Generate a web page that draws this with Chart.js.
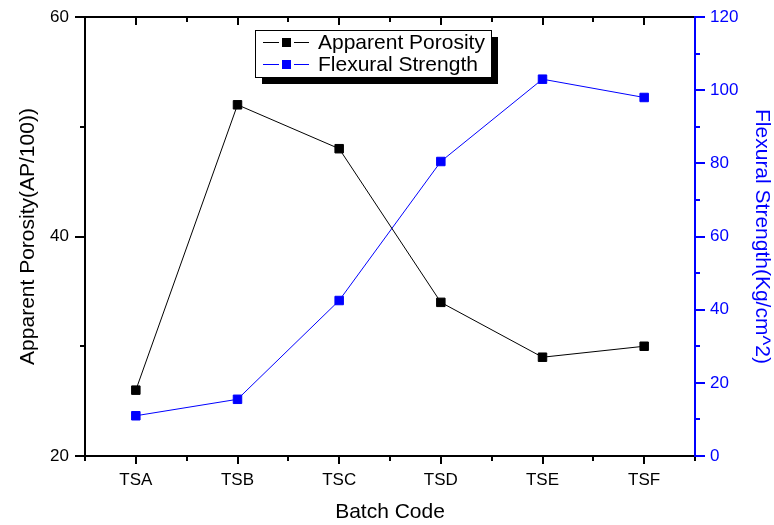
<!DOCTYPE html>
<html>
<head>
<meta charset="utf-8">
<script src="https://cdn.jsdelivr.net/npm/chart.js@4/dist/chart.umd.min.js"></script>
<style>
html,body{margin:0;padding:0;background:#fff;}
#wrap{width:774px;height:525px;}
</style>
</head>
<body>
<div id="wrap"><canvas id="c" width="774" height="525"></canvas></div>
<script>
const categories = ['TSA', 'TSB', 'TSC', 'TSD', 'TSE', 'TSF'];
const apparentPorosity = [26, 52, 48, 34, 29, 30];
const flexuralStrength = [11, 15.5, 42.5, 80.5, 103, 98];
const leftTicks = [20, 40, 60];
const leftMinorTicks = [30, 50];
const rightTicks = [0, 20, 40, 60, 80, 100, 120];
const rightMinorTicks = [10, 30, 50, 70, 90, 110];

const FONT = "'Liberation Sans', Arial, sans-serif";
const BLUE = '#0000FF';

const framePlugin = {
  id: 'frame',
  afterDatasetsDraw(chart) {
    const ctx = chart.ctx;
    const a = chart.chartArea;
    const x = chart.scales.x, yl = chart.scales.y, yr = chart.scales.y1;
    ctx.save();
    ctx.lineWidth = 2;
    ctx.lineCap = 'butt';
    ctx.strokeStyle = '#000';
    ctx.beginPath();
    ctx.moveTo(a.left, a.top - 1); ctx.lineTo(a.left, a.bottom + 1);
    ctx.moveTo(a.left - 1, a.bottom); ctx.lineTo(a.right, a.bottom);
    ctx.moveTo(a.left - 1, a.top); ctx.lineTo(a.right, a.top);
    for (let i = 0; i < categories.length; i++) {
      const px = Math.round(x.getPixelForValue(i));
      ctx.moveTo(px, a.bottom); ctx.lineTo(px, a.bottom + 8);
      ctx.moveTo(px, a.top); ctx.lineTo(px, a.top + 8);
    }
    for (let i = 0; i <= categories.length; i++) {
      const px = Math.round(x.getPixelForValue(i - 0.5));
      ctx.moveTo(px, a.bottom); ctx.lineTo(px, a.bottom + 5);
      ctx.moveTo(px, a.top); ctx.lineTo(px, a.top + 5);
    }
    leftTicks.forEach(v => {
      const py = Math.round(yl.getPixelForValue(v));
      ctx.moveTo(a.left, py); ctx.lineTo(a.left - 10, py);
    });
    leftMinorTicks.forEach(v => {
      const py = Math.round(yl.getPixelForValue(v));
      ctx.moveTo(a.left, py); ctx.lineTo(a.left - 5, py);
    });
    ctx.stroke();
    ctx.strokeStyle = BLUE;
    ctx.beginPath();
    ctx.moveTo(a.right, a.top - 1); ctx.lineTo(a.right, a.bottom + 1);
    rightTicks.forEach(v => {
      const py = Math.round(yr.getPixelForValue(v));
      ctx.moveTo(a.right, py); ctx.lineTo(a.right + 10, py);
    });
    rightMinorTicks.forEach(v => {
      const py = Math.round(yr.getPixelForValue(v));
      ctx.moveTo(a.right, py); ctx.lineTo(a.right + 5, py);
    });
    ctx.stroke();

    const lx = 255, ly = 30, lw = 236, lh = 47;
    ctx.fillStyle = '#000';
    ctx.fillRect(lx + 7, ly + 7, lw, lh);
    ctx.fillStyle = '#fff';
    ctx.fillRect(lx, ly, lw, lh);
    ctx.lineWidth = 1;
    ctx.strokeStyle = '#000';
    ctx.strokeRect(lx + 0.5, ly + 0.5, lw, lh);
    chart.data.datasets.forEach((ds, i) => {
      const cy = ly + 12 + i * 22;
      ctx.strokeStyle = ds.borderColor;
      ctx.lineWidth = 1;
      ctx.beginPath();
      ctx.moveTo(263, cy + 0.5); ctx.lineTo(279, cy + 0.5);
      ctx.moveTo(294, cy + 0.5); ctx.lineTo(309, cy + 0.5);
      ctx.stroke();
      ctx.fillStyle = ds.borderColor;
      ctx.fillRect(282, cy - 4, 9, 9);
      ctx.fillStyle = '#000';
      ctx.font = '21px ' + FONT;
      ctx.textBaseline = 'middle';
      ctx.textAlign = 'left';
      ctx.fillText(ds.label, 318, cy + 1);
    });
    ctx.restore();
  }
};

function noPad(s) { s.paddingTop = 0; s.paddingBottom = 0; s.paddingLeft = 0; s.paddingRight = 0; }

new Chart(document.getElementById('c'), {
  type: 'line',
  data: {
    labels: categories,
    datasets: [
      {
        label: 'Apparent Porosity',
        data: apparentPorosity,
        yAxisID: 'y',
        borderColor: '#000000',
        backgroundColor: '#000000',
        borderWidth: 1,
        pointStyle: 'rect',
        pointRadius: 6,
        pointBorderWidth: 1,
        pointBackgroundColor: '#000000',
        pointBorderColor: '#000000',
        tension: 0
      },
      {
        label: 'Flexural Strength',
        data: flexuralStrength,
        yAxisID: 'y1',
        borderColor: BLUE,
        backgroundColor: BLUE,
        borderWidth: 1,
        pointStyle: 'rect',
        pointRadius: 6,
        pointBorderWidth: 1,
        pointBackgroundColor: BLUE,
        pointBorderColor: BLUE,
        tension: 0
      }
    ]
  },
  options: {
    responsive: false,
    animation: false,
    layout: { padding: { top: 17, left: 0, right: 0, bottom: 0 } },
    plugins: { legend: { display: false }, tooltip: { enabled: false } },
    scales: {
      x: {
        type: 'category',
        offset: true,
        grid: { display: false, drawTicks: false },
        border: { display: false },
        ticks: { color: '#000', font: { family: FONT, size: 17 }, padding: 14, maxRotation: 0 },
        title: { display: true, text: 'Batch Code', color: '#000', font: { family: FONT, size: 21 }, padding: { top: 0, bottom: 0 } },
        afterFit(s) { s.height = 69; noPad(s); }
      },
      y: {
        position: 'left',
        min: 20, max: 60,
        afterBuildTicks(s) { s.ticks = leftTicks.map(v => ({ value: v })); },
        grid: { display: false, drawTicks: false },
        border: { display: false },
        ticks: { color: '#000', font: { family: FONT, size: 17 }, padding: 16 },
        title: { display: true, text: 'Apparent Porosity(AP/100))', color: '#000', font: { family: FONT, size: 21 }, padding: { top: 16, bottom: 0 } },
        afterFit(s) { s.width = 85; noPad(s); }
      },
      y1: {
        position: 'right',
        min: 0, max: 120,
        afterBuildTicks(s) { s.ticks = rightTicks.map(v => ({ value: v })); },
        grid: { display: false, drawTicks: false },
        border: { display: false },
        ticks: { color: BLUE, font: { family: FONT, size: 17 }, padding: 15 },
        title: { display: true, text: 'Flexural Strength(Kg/cm^2)', color: BLUE, font: { family: FONT, size: 21 }, padding: { top: 0, bottom: 0 } },
        afterFit(s) { s.width = 79; noPad(s); }
      }
    }
  },
  plugins: [framePlugin]
});
</script>
</body>
</html>
